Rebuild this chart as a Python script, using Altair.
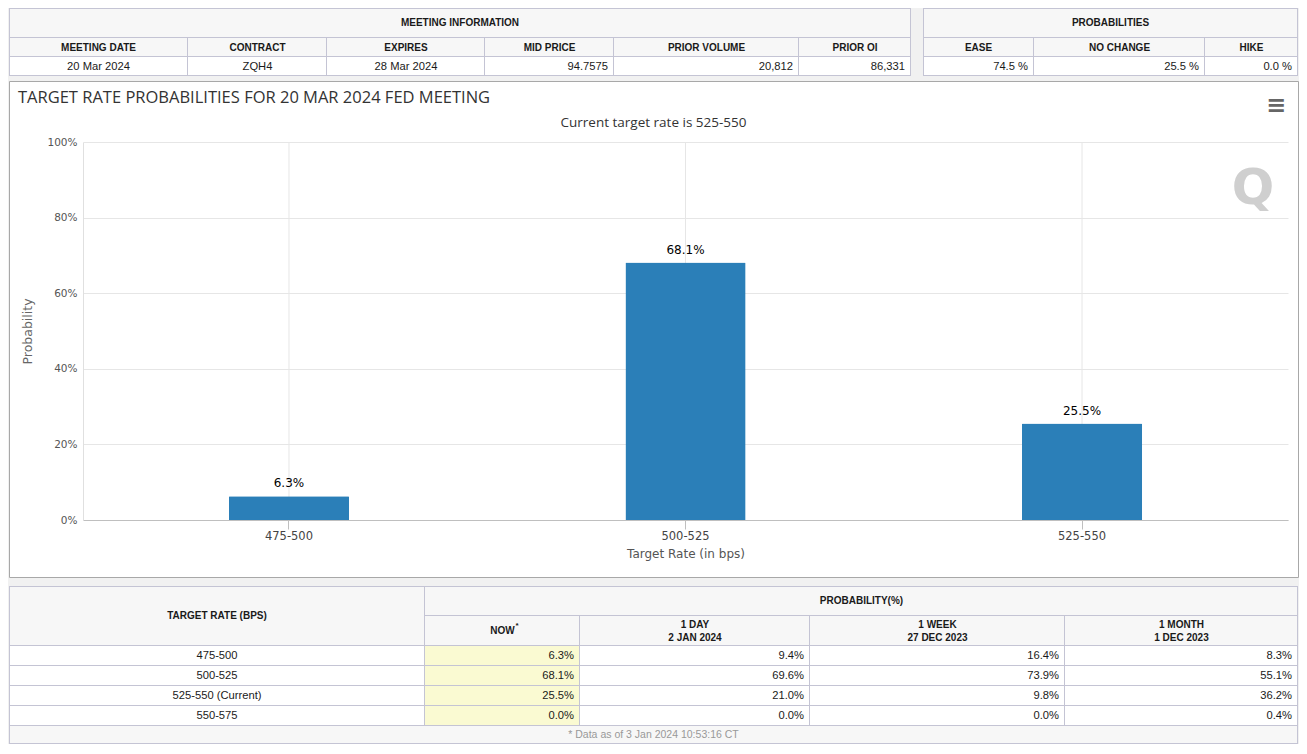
import altair as alt
import pandas as pd

# ---------------- data ----------------
meeting_headers = ["MEETING DATE", "CONTRACT", "EXPIRES", "MID PRICE", "PRIOR VOLUME", "PRIOR OI"]
meeting_values = ["20 Mar 2024", "ZQH4", "28 Mar 2024", "94.7575", "20,812", "86,331"]
outcome_headers = ["EASE", "NO CHANGE", "HIKE"]
outcome_values = [74.5, 25.5, 0.0]

bar_rates = ["475-500", "500-525", "525-550"]
bar_probs = [6.3, 68.1, 25.5]
y_ticks = [0, 20, 40, 60, 80, 100]

table_rates = ["475-500", "500-525", "525-550 (Current)", "550-575"]
period_names = ["NOW", "1 DAY", "1 WEEK", "1 MONTH"]
period_dates = ["", "2 JAN 2024", "27 DEC 2023", "1 DEC 2023"]
prob_now = [6.3, 68.1, 25.5, 0.0]
prob_1day = [9.4, 69.6, 21.0, 0.0]
prob_1week = [16.4, 73.9, 9.8, 0.0]
prob_1month = [8.3, 55.1, 36.2, 0.4]

title_text = "TARGET RATE PROBABILITIES FOR 20 MAR 2024 FED MEETING"
subtitle_text = "Current target rate is 525-550"
footnote_text = "* Data as of 3 Jan 2024 10:53:16 CT"

# ---------------- layout / style ----------------
BG = "#f1f1f1"
HDR_FILL = "#f7f7f7"
NOW_FILL = "#fafad2"
BORDER = "#c4c4d4"
TXT = "#1a1a1a"
TFONT = "Liberation Sans"
CFONT = "DejaVu Sans"
BAR = "#2b7fb8"

meeting_widths = [179, 139, 158, 129, 185, 112]
meeting_align = ["center", "center", "center", "right", "right", "right"]
outcome_widths = [111, 171, 93]
rate_col_w = 416
period_widths = [155, 230, 255, 233]

PANEL_W, PANEL_H = 1289, 496
PLOT_TOP, PLOT_BOTTOM = 61, 439


def cell(text, w, h, fill, align="center", weight="normal", size=11.2, color=TXT,
         left=False, top=False, sup=False, lines=1):
    base = alt.Chart(pd.DataFrame({"label": [text]}))
    border = base.mark_rect(fill=BORDER).encode(
        x=alt.value(0), x2=alt.value(w), y=alt.value(0), y2=alt.value(h))
    inner = base.mark_rect(fill=fill).encode(
        x=alt.value(1 if left else 0), x2=alt.value(w - 1),
        y=alt.value(1 if top else 0), y2=alt.value(h - 1))
    xpos = {"center": w / 2, "right": w - 6, "left": 6}[align]
    ymid = h / 2 - (lines - 1) * 6.5
    txt = base.mark_text(align=align, baseline="middle", font=TFONT, fontSize=size,
                         fontWeight=weight, color=color, lineBreak="\n",
                         lineHeight=13).encode(x=alt.value(xpos), y=alt.value(ymid),
                                               text="label:N")
    layers = [border, inner, txt]
    if sup:
        layers.append(base.mark_text(align="left", baseline="middle", font=TFONT,
                                     fontSize=8, fontWeight="bold", color=TXT)
                      .encode(x=alt.value(xpos + 13), y=alt.value(ymid - 5),
                              text=alt.value("*")))
    return alt.layer(*layers).properties(width=w, height=h)


def vstack(*charts, spacing=0):
    return alt.vconcat(*charts, spacing=spacing)


def hstack(*charts, spacing=0):
    return alt.hconcat(*charts, spacing=spacing)


HB = dict(weight="bold", size=10)

# ---------------- top tables ----------------
meet_cols = []
for i, (h, v, w, a) in enumerate(zip(meeting_headers, meeting_values, meeting_widths,
                                     meeting_align)):
    meet_cols.append(vstack(cell(h, w, 19, HDR_FILL, left=(i == 0), **HB),
                            cell(v, w, 19, "white", align=a, left=(i == 0))))
meeting_table = vstack(cell("MEETING INFORMATION", sum(meeting_widths), 30, HDR_FILL,
                            left=True, top=True, **HB),
                       hstack(*meet_cols))

out_cols = []
for i, (h, v, w) in enumerate(zip(outcome_headers, outcome_values, outcome_widths)):
    out_cols.append(vstack(cell(h, w, 19, HDR_FILL, left=(i == 0), **HB),
                           cell(f"{v:.1f} %", w, 19, "white", align="right", left=(i == 0))))
outcome_table = vstack(cell("PROBABILITIES", sum(outcome_widths), 30, HDR_FILL,
                            left=True, top=True, **HB),
                       hstack(*out_cols))

top_row = hstack(meeting_table, outcome_table, spacing=12)

# ---------------- bar chart panel ----------------
bar_df = pd.DataFrame({"rate": bar_rates, "prob": bar_probs})

x_enc = alt.X(
    "rate:N", sort=bar_rates, title="Target Rate (in bps)",
    scale=alt.Scale(range=[74, 1279], paddingInner=0.697, paddingOuter=0.368),
    axis=alt.Axis(offset=-(PANEL_H - PLOT_BOTTOM), grid=False, bandPosition=0.5,
                  domainColor="#bfbfbf", tickColor="#bfbfbf",
                  tickSize=9, labelPadding=1, labelAngle=0, labelFont=CFONT,
                  labelFontSize=11.5, labelColor="#444", titleFont=CFONT, titleFontSize=12,
                  titleColor="#555", titleFontWeight="normal", titlePadding=7))
y_enc = alt.Y(
    "prob:Q", title="Probability",
    scale=alt.Scale(domain=[0, 100], range=[PLOT_BOTTOM, PLOT_TOP], nice=False),
    axis=alt.Axis(values=y_ticks, labelExpr="datum.value + '%'", offset=-74, grid=True,
                  gridColor="#e6e6e6", domainColor="#e0e0e0", ticks=False, labelPadding=6,
                  labelFont=CFONT, labelFontSize=10.5, labelColor="#555",
                  titleFont=CFONT, titleFontSize=12.5, titleColor="#666",
                  titleFontWeight="normal", titlePadding=12))

vgrid = alt.Chart(bar_df).mark_rule(color="#e6e6e6", strokeWidth=1).encode(
    x=x_enc, y=alt.value(PLOT_TOP), y2=alt.value(PLOT_BOTTOM))
bars = alt.Chart(bar_df).mark_bar(color=BAR, cornerRadiusTopLeft=1,
                                  cornerRadiusTopRight=1).encode(x=x_enc, y=y_enc)
bar_labels = alt.Chart(bar_df).transform_calculate(
    lab="format(datum.prob, '.1f') + '%'"
).mark_text(dy=-13, font=CFONT, fontSize=12, color="#000", baseline="middle").encode(
    x=x_enc, y=y_enc, text="lab:N")

title_mark = alt.Chart(pd.DataFrame({"t": [title_text]})).mark_text(
    align="left", baseline="middle", font="Open Sans", fontSize=16.5, color="#333"
).encode(x=alt.value(9), y=alt.value(17), text="t:N")
subtitle_mark = alt.Chart(pd.DataFrame({"t": [subtitle_text]})).mark_text(
    align="center", baseline="middle", font="Open Sans", fontSize=13.5, color="#333"
).encode(x=alt.value(PANEL_W / 2), y=alt.value(42), text="t:N")
menu_mark = alt.Chart(pd.DataFrame({"t": ["\u2261"]})).mark_text(
    align="center", baseline="middle", font=CFONT, fontSize=24, fontWeight="bold",
    color="#666"
).encode(x=alt.value(1267), y=alt.value(25), text="t:N")
logo_mark = alt.Chart(pd.DataFrame({"t": ["Q"]})).mark_text(
    align="center", baseline="middle", font=CFONT, fontSize=50, fontWeight="bold",
    color="#cfcfcf"
).encode(x=alt.value(1244), y=alt.value(108), text="t:N")

panel = alt.layer(vgrid, bars, bar_labels, title_mark, subtitle_mark, menu_mark,
                  logo_mark).properties(
    width=PANEL_W, height=PANEL_H,
    view=alt.ViewBackground(fill="white", stroke="#a8a8a8", strokeWidth=1))

# ---------------- bottom table ----------------
rate_col = vstack(
    cell("TARGET RATE (BPS)", rate_col_w, 60, HDR_FILL, left=True, top=True, **HB),
    *[cell(r, rate_col_w, 20, "white", left=True) for r in table_rates])

period_series = [prob_now, prob_1day, prob_1week, prob_1month]
period_cols = []
for i, (name, date, vals, w) in enumerate(zip(period_names, period_dates, period_series,
                                               period_widths)):
    head = name if not date else f"{name}\n{date}"
    period_cols.append(vstack(
        cell(head, w, 30, HDR_FILL, sup=(i == 0), lines=(1 if not date else 2), **HB),
        *[cell(f"{v:.1f}%", w, 20, NOW_FILL if i == 0 else "white", align="right")
          for v in vals]))
prob_part = vstack(cell("PROBABILITY(%)", sum(period_widths), 30, HDR_FILL, top=True, **HB),
                   hstack(*period_cols))
bottom_table = vstack(hstack(rate_col, prob_part),
                      cell(footnote_text, rate_col_w + sum(period_widths), 18, HDR_FILL,
                           size=10.5, color="#999", left=True))

chart = vstack(top_row, vstack(panel, bottom_table, spacing=8), spacing=4).properties(
    padding=0, background=BG
).configure_view(strokeWidth=0)

chart.save("out.html", embed_options={"renderer": "svg", "actions": False})
